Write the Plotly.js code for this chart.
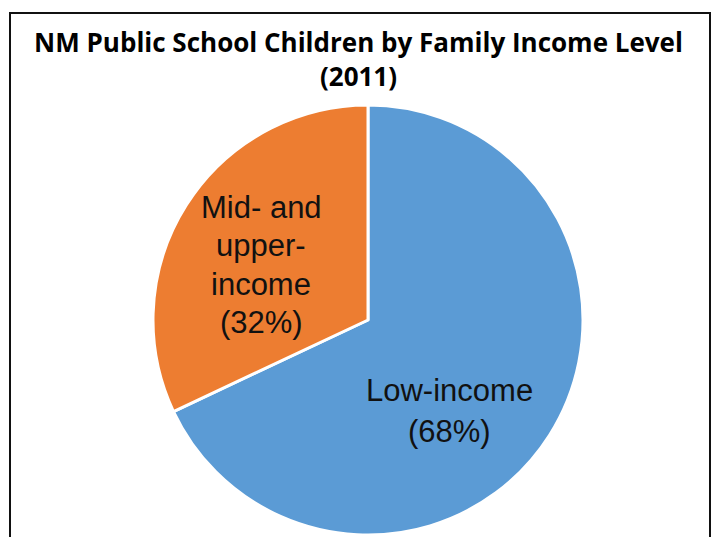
<!DOCTYPE html>
<html>
<head>
<meta charset="utf-8">
<script src="https://cdn.plot.ly/plotly-3.0.1.min.js"></script>
<style>
  html, body { margin: 0; padding: 0; background: #ffffff; overflow: hidden; }
  #frame { position: absolute; left: 9px; top: 12px; width: 702px; height: 540px;
           border: 2px solid #111111; box-sizing: border-box; pointer-events: none; z-index: 5; }
  #chart { position: absolute; left: 0; top: 0; width: 717px; height: 537px; }
</style>
</head>
<body>
<div id="chart"></div>
<div id="frame"></div>
<script>
// Data
const categories = ["Low-income", "Mid- and upper-income"];
const values = [68, 32];
const colors = ["#5B9BD5", "#ED7D31"];
const lowLabelLines = ["Low-income"];
const midLabelLines = ["Mid- and", "upper-", "income"];
const chartTitle = "NM Public School Children by Family Income Level<br>(2011)";

const W = 717, H = 537;
const cx = 368, cy = 320, R = 215;

function px(x) { return x / W; }
function py(y) { return 1 - y / H; }

const labelFont = { family: "Liberation Sans, Arial, sans-serif", size: 31, color: "#111111" };

const annotations = [];
const midLines = midLabelLines.concat(["(" + values[1] + "%)"]);
const midYs = [207, 245, 284, 322];
midLines.forEach((t, i) => {
  annotations.push({ text: t, x: px(261), y: py(midYs[i]), xref: "paper", yref: "paper",
    xanchor: "center", yanchor: "middle", showarrow: false, font: labelFont });
});
const lowLines = lowLabelLines.concat(["(" + values[0] + "%)"]);
const lowYs = [390, 431];
lowLines.forEach((t, i) => {
  annotations.push({ text: t, x: px(449), y: py(lowYs[i]), xref: "paper", yref: "paper",
    xanchor: "center", yanchor: "middle", showarrow: false, font: labelFont });
});

const trace = {
  type: "pie",
  labels: categories,
  values: values,
  sort: false,
  direction: "clockwise",
  rotation: 0,
  textinfo: "none",
  hoverinfo: "label+percent",
  marker: { colors: colors, line: { color: "#ffffff", width: 3 } },
  domain: { x: [px(cx - R), px(cx + R)], y: [py(cy + R), py(cy - R)] },
  showlegend: false
};

const layout = {
  width: W, height: H,
  margin: { l: 0, r: 0, t: 0, b: 0 },
  paper_bgcolor: "#ffffff",
  showlegend: false,
  title: {
    text: "<b>" + chartTitle + "</b>",
    font: { family: "Open Sans, sans-serif", size: 26, color: "#000000" },
    x: 0.5, xanchor: "center",
    y: py(52), yanchor: "top", yref: "container"
  },
  annotations: annotations
};

Plotly.newPlot("chart", [trace], layout, { displayModeBar: false, staticPlot: true });
</script>
</body>
</html>
